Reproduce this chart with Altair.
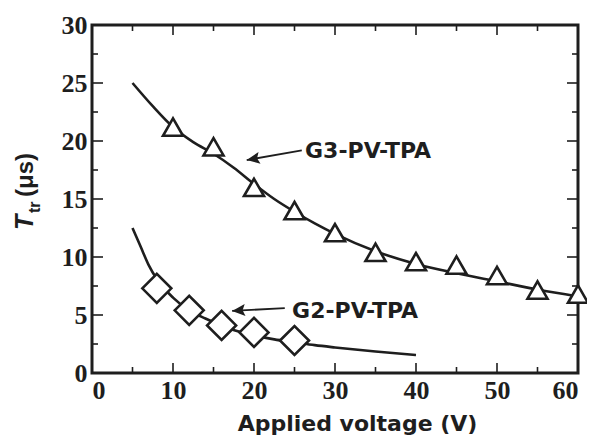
import altair as alt
import pandas as pd

# ---- data ----
g3_v = [10, 15, 20, 25, 30, 35, 40, 45, 50, 55, 60]
g3_t = [21.2, 19.5, 16.0, 14.0, 12.1, 10.4, 9.6, 9.3, 8.4, 7.15, 6.8]
g2_v = [8, 12, 16, 20, 25]
g2_t = [7.3, 5.4, 4.1, 3.5, 2.8]

g3_fit_v = [5, 7.5, 10, 12.5, 15, 17.5, 20, 22.5, 25, 27.5, 30, 35, 40, 45, 50, 55, 60]
g3_fit_t = [25.0, 23.0, 21.2, 19.9, 18.9, 17.7, 16.3, 15.0, 13.9, 12.9, 12.0, 10.5, 9.4, 8.6, 7.9, 7.2, 6.6]
g2_fit_v = [5, 6, 7, 8, 10, 12, 14, 16, 18, 20, 22.5, 25, 27.5, 30, 35, 40]
g2_fit_t = [12.5, 10.9, 9.3, 8.1, 6.5, 5.4, 4.7, 4.1, 3.6, 3.25, 2.9, 2.65, 2.4, 2.2, 1.85, 1.55]

x_major = [0, 10, 20, 30, 40, 50, 60]
x_minor = [5, 15, 25, 35, 45, 55]
y_major = [0, 5, 10, 15, 20, 25, 30]
y_minor = [2.5, 7.5, 12.5, 17.5, 22.5, 27.5]

labels = ["G3-PV-TPA", "G2-PV-TPA"]
label_x = [26.3, 24.7]
label_y = [18.5, 4.74]
arrow_tail_x = [25.9, 23.8]
arrow_tail_y = [19.2, 5.6]
arrow_tip_x = [19.1, 17.3]
arrow_tip_y = [18.36, 5.35]
arrow_angle = [260.5, 266.0]

W, H = 486, 348
INK = "#1e1e1e"

xs = alt.Scale(domain=[0, 60], nice=False, zero=False)
ys = alt.Scale(domain=[0, 30], nice=False, zero=False)
xaxis = alt.Axis(values=x_major, title="Applied voltage (V)", format="d")
yaxis = alt.Axis(values=y_major, title=None, format="d")


def X(f="x"):
    return alt.X(f"{f}:Q", scale=xs, axis=xaxis)


def Y(f="y"):
    return alt.Y(f"{f}:Q", scale=ys, axis=yaxis)


g3_fit = alt.Chart(pd.DataFrame({"x": g3_fit_v, "y": g3_fit_t})).mark_line(
    color=INK, strokeWidth=2.6, interpolate="monotone", clip=False
).encode(x=X(), y=Y(), order="x:Q")
g2_fit = alt.Chart(pd.DataFrame({"x": g2_fit_v, "y": g2_fit_t})).mark_line(
    color=INK, strokeWidth=2.6, interpolate="monotone", clip=False
).encode(x=X(), y=Y(), order="x:Q")

g3_pts = alt.Chart(pd.DataFrame({"x": g3_v, "y": g3_t})).mark_point(
    shape="triangle-up", size=400, filled=True, fill="white", stroke=INK,
    strokeWidth=2.6, opacity=1, clip=False
).encode(x=X(), y=Y())
g2_pts = alt.Chart(pd.DataFrame({"x": g2_v, "y": g2_t})).mark_point(
    shape="diamond", size=841, filled=True, fill="white", stroke=INK,
    strokeWidth=2.6, opacity=1, clip=False
).encode(x=X(), y=Y())

arrows_df = pd.DataFrame({
    "x": arrow_tail_x, "y": arrow_tail_y,
    "x2": arrow_tip_x, "y2": arrow_tip_y, "a": arrow_angle,
})
arrow_lines = alt.Chart(arrows_df).mark_rule(color=INK, strokeWidth=1.8).encode(
    x=X(), y=Y(), x2="x2:Q", y2="y2:Q"
)
arrow_heads = alt.Chart(arrows_df).mark_point(
    shape="M0,0L-6,13L0,10.5L6,13Z", size=4, filled=True, color=INK, opacity=1
).encode(x=X("x2"), y=Y("y2"), angle=alt.Angle("a:Q", scale=None))

label_df = pd.DataFrame({"x": label_x, "y": label_y, "t": labels})
label_text = alt.Chart(label_df).mark_text(
    align="left", baseline="alphabetic", font="DejaVu Sans", fontWeight="bold",
    fontSize=22, color=INK
).encode(x=X(), y=Y(), text="t:N")

# inward ticks on all four sides
def xticks(vals, length):
    df = pd.DataFrame({"x": vals})
    b = alt.Chart(df).mark_rule(color=INK, strokeWidth=1.6).encode(
        x=X(), y=alt.value(H), y2=alt.value(H - length))
    t = alt.Chart(df).mark_rule(color=INK, strokeWidth=1.6).encode(
        x=X(), y=alt.value(0), y2=alt.value(length))
    return [b, t]


def yticks(vals, length):
    df = pd.DataFrame({"y": vals})
    l = alt.Chart(df).mark_rule(color=INK, strokeWidth=1.6).encode(
        y=Y(), x=alt.value(0), x2=alt.value(length))
    r = alt.Chart(df).mark_rule(color=INK, strokeWidth=1.6).encode(
        y=Y(), x=alt.value(W), x2=alt.value(W - length))
    return [l, r]


ticks = xticks(x_major, 10) + xticks(x_minor, 6) + yticks(y_major, 11) + yticks(y_minor, 6)

# y-axis title: T (italic) with subscript "tr" and (μs)
yt_T = alt.Chart(pd.DataFrame({"t": ["T"]})).mark_text(
    angle=270, align="left", baseline="alphabetic", font="Liberation Sans",
    fontStyle="italic", fontWeight="bold", fontSize=25, color=INK
).encode(x=alt.value(-59), y=alt.value(205), text="t:N")
yt_sub = alt.Chart(pd.DataFrame({"t": ["tr"]})).mark_text(
    angle=270, align="left", baseline="alphabetic", font="Liberation Sans",
    fontWeight="bold", fontSize=16, color=INK
).encode(x=alt.value(-52), y=alt.value(188), text="t:N")
yt_unit = alt.Chart(pd.DataFrame({"t": ["(μs)"]})).mark_text(
    angle=270, align="left", baseline="alphabetic", font="Liberation Sans",
    fontWeight="bold", fontSize=24, color=INK
).encode(x=alt.value(-59), y=alt.value(172), text="t:N")

chart = alt.layer(
    g3_fit, g2_fit, *ticks, arrow_lines, arrow_heads, g3_pts, g2_pts,
    label_text, yt_T, yt_sub, yt_unit
).properties(
    width=W, height=H,
    autosize=alt.AutoSizeParams(type="none"),
    padding={"left": 84, "top": 17, "right": 9, "bottom": 62},
).configure_view(
    stroke=INK, strokeWidth=3
).configure_axis(
    domain=False, ticks=False, tickSize=0, grid=False,
    labelFont="Liberation Serif", labelFontWeight="bold", labelFontSize=26,
    labelColor=INK, titleColor=INK
).configure_axisX(
    labelPadding=4,
    titleFont="DejaVu Sans", titleFontWeight="bold", titleFontSize=22,
    titleX=265, titleY=57, titleBaseline="alphabetic", titleAlign="center",
).configure_axisY(
    labelPadding=5,
)

chart.save("out.html", embed_options={"renderer": "svg", "actions": False})
